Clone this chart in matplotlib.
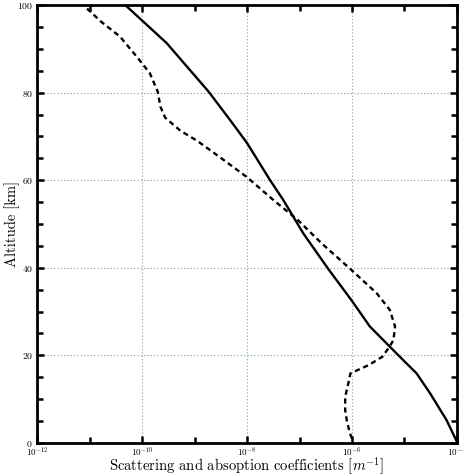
import numpy as np
import matplotlib
matplotlib.use("Agg")
import matplotlib.pyplot as plt
from matplotlib.ticker import FixedLocator, MultipleLocator, NullFormatter

plt.rcParams.update(
    {
        "font.family": "serif",
        "font.serif": ["cmr10", "DejaVu Serif"],
        "mathtext.fontset": "cm",
        "axes.formatter.use_mathtext": True,
    }
)

# values (exponents of the coefficient, altitude in km)
alt_solid = [0, 5.25, 11.3, 15.9, 19.7, 22.0, 24.3, 26.6, 32.6, 39.7, 47.9, 55.5,
             60, 68.5, 73.7, 80.2, 91.3, 100]
exp_solid = [-3.99, -4.20, -4.51, -4.77, -5.09, -5.28, -5.47, -5.66, -6.01, -6.45,
             -6.93, -7.31, -7.56, -8.0, -8.32, -8.73, -9.53, -10.32]

alt_dash = [1, 2.2, 5.2, 7.5, 10.5, 13.6, 15.9, 17.8, 19.7, 21.9, 23.5, 26.6, 30.4,
            34.2, 39.5, 45.6, 51, 55.5, 60.7, 65.2, 69, 71.3, 74.3, 76.8, 80.2,
            84.4, 88.2, 92.8, 96.2, 100]
exp_dash = [-6.0, -6.04, -6.10, -6.13, -6.13, -6.07, -6.03, -5.68, -5.42, -5.29,
            -5.21, -5.18, -5.28, -5.53, -6.01, -6.58, -7.04, -7.5, -8.0, -8.51,
            -8.95, -9.27, -9.56, -9.65, -9.70, -9.85, -10.10, -10.42, -10.78, -11.12]

x_major = [-12, -10, -8, -6, -4]
x_minor = [-11, -9, -7, -5]

fig = plt.figure(figsize=(4.63, 4.75), dpi=100)
ax = fig.add_axes([0.080, 0.0674, 0.907, 0.922])

ax.plot(10.0 ** np.array(exp_solid), alt_solid, color="black", lw=1.7)
ax.plot(10.0 ** np.array(exp_dash), alt_dash, color="black", lw=1.7,
        linestyle=(0, (2.2, 1.6)))

ax.set_xscale("log")
ax.set_xlim(1e-12, 1e-4)
ax.set_ylim(0, 100)

ax.xaxis.set_major_locator(FixedLocator([10.0 ** e for e in x_major]))
ax.xaxis.set_minor_locator(FixedLocator([10.0 ** e for e in x_minor]))
ax.xaxis.set_minor_formatter(NullFormatter())
ax.set_xticklabels([r"$10^{%d}$" % e for e in x_major], fontsize=6.5)
ax.yaxis.set_major_locator(MultipleLocator(20))
ax.yaxis.set_minor_locator(MultipleLocator(5))
for lbl in ax.get_yticklabels():
    lbl.set_fontsize(7)

ax.tick_params(which="both", direction="in", top=True, right=True, width=1.8)
ax.tick_params(which="major", length=5, pad=3)
ax.tick_params(which="minor", length=4)
ax.tick_params(axis="x", pad=2)

ax.grid(True, which="major", linestyle=(0, (1, 2)), color="#7f9f9f", lw=0.8)
for s in ax.spines.values():
    s.set_linewidth(2.0)

ax.set_xlabel(r"Scattering and absoption coefficients $[m^{-1}]$", fontsize=10.5)
ax.set_ylabel("Altitude [km]", fontsize=10.5)
ax.xaxis.set_label_coords(0.5, -0.029)
ax.yaxis.set_label_coords(-0.040, 0.5)

fig.savefig("out.png", dpi=100)
